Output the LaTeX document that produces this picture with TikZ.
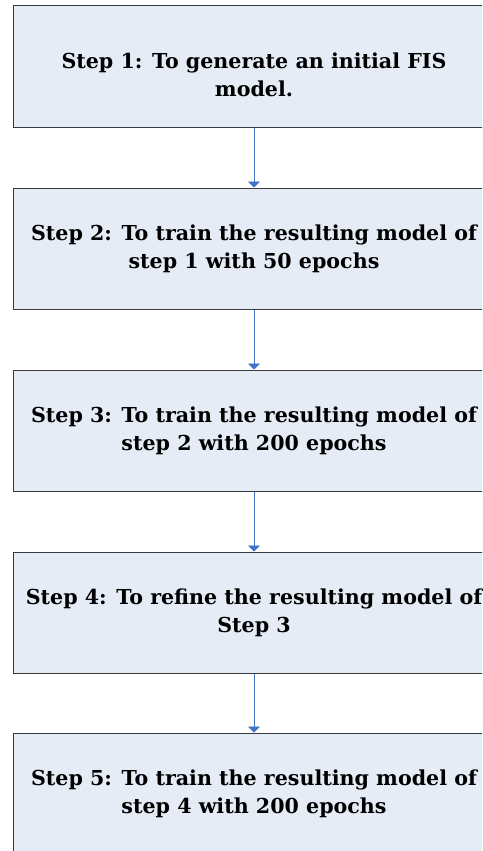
\documentclass[tikz,border=0pt]{standalone}
\usepackage{fontspec}
\setmainfont{DejaVu Serif}
\usetikzlibrary{arrows.meta}
\definecolor{boxfill}{HTML}{E5ECF6}
\definecolor{boxline}{HTML}{3A3A3A}
\definecolor{flowblue}{HTML}{4472C4}
\tikzset{
  steptext/.style={align=center, font=\bfseries\fontsize{20.6}{28}\selectfont},
  stepbox/.style={draw=boxline, line width=1pt, fill=boxfill,
    minimum width=482pt, minimum height=121pt, inner sep=0pt, steptext},
  flow/.style={draw=flowblue, line width=0.9pt,
    -{Triangle[width=12pt,length=6pt]}}
}
\begin{document}
\begin{tikzpicture}[x=1pt,y=1pt]
  \useasboundingbox (0,0) rectangle (482,-851);
  \clip (0,0) rectangle (482,-851);
  \node[stepbox] (s1) at (254,-66.5) {};
  \node[steptext] (t1) at (254,-75)
    {Step 1: To generate an initial FIS\\model.};
  \node[stepbox] (s2) at (254,-248.5) {Step 2: To train the resulting model of\\step 1 with 50 epochs};
  \node[stepbox] (s3) at (254,-430.5) {Step 3: To train the resulting model of\\step 2 with 200 epochs};
  \node[stepbox] (s4) at (254,-612.5) {Step 4: To refine the resulting model of\\Step 3};
  \node[stepbox] (s5) at (254,-793.5) {Step 5: To train the resulting model of\\step 4 with 200 epochs};
  \draw[flow] (s1.south) -- (s2.north);
  \draw[flow] (s2.south) -- (s3.north);
  \draw[flow] (s3.south) -- (s4.north);
  \draw[flow] (s4.south) -- (s5.north);
\end{tikzpicture}
\end{document}
